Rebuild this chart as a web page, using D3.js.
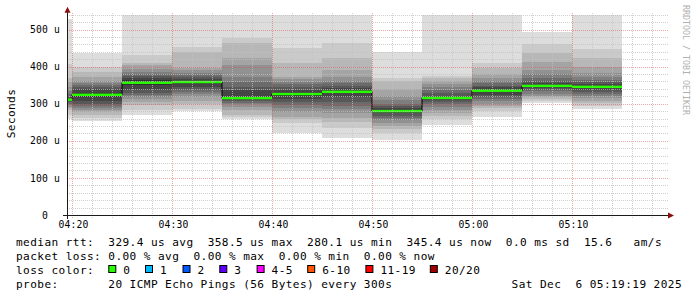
<!DOCTYPE html>
<html><head><meta charset="utf-8">
<script src="https://cdn.jsdelivr.net/npm/d3@7"></script>
<style>
html,body{margin:0;padding:0;background:#fff;}
svg{display:block;}
text{font-family:"DejaVu Sans Mono",monospace;white-space:pre;}
</style>
</head><body>
<svg id="c" width="697" height="297"></svg>
<script>
// ---- data ----
const times = ["04:20","04:25","04:30","04:35","04:40","04:45","04:50","04:55","05:00","05:05","05:10","05:15"]; // interval end times
const medians = [311, 324, 356.5, 358.5, 315, 326, 332, 280.1, 315.5, 335, 348, 345.4]; // us
// 20 sorted ping rtts (us) per interval
const pings = [
  [259,270,283,288,292,296,300,304,307,310,312,315,319,326,335,346,358,369,407,527],
  [254,262,270,277,283,288,293,298,306,318,330,340,346,350,355,361,372,385,400,437],
  [270,283,296,305,312,317,323,328,337,350,363,368,374,380,386,393,404,410,431,540],
  [280,285,298,308,317,325,332,338,345,357,360,366,372,378,383,390,396,440,452,540],
  [259,263,270,283,292,298,303,307,310,312,318,337,346,359,373,404,422,463,477,540],
  [222,247,258,265,278,288,297,305,314,322,330,338,346,352,359,366,373,409,449,540],
  [208,234,250,262,275,285,295,305,318,330,334,341,348,355,362,372,390,422,463,540],
  [202,222,232,240,248,255,262,268,274,279,281.2,288,294,300,310,322,340,361,368,440],
  [243,258,268,276,284,292,298,304,309,313,318,322,328,336,344,352,360,368,376,540],
  [265,280,288,294,300,306,312,318,324,331,339,344,349,355,362,370,380,395,410,540],
  [301,307,312,317,322,327,333,338,342,346,350,355,362,370,380,392,413,436,461,494],
  [286,295,301,308,315,320,326,332,337,342,348.8,352,358,364,372,384,400,422,447,540]
];
const yTicks = [0,100,200,300,400,500];
const xTickLabels = ["04:20","04:30","04:40","04:50","05:00","05:10"];
const rttStats = [329.4, 358.5, 280.1, 345.4];   // avg, max, min, now (us)
const rttStatNames = ["avg","max","min","now"];
const rttSd = 0.0;   // ms
const amPerS = 15.6;
const lossStats = [0.00, 0.00, 0.00, 0.00];      // avg, max, min, now (%)
const lossLabels = ["0","1","2","3","4-5","6-10","11-19","20/20"];
const lossColors = ["#26ff00","#00b8ff","#0059ff","#5e00ff","#ff00ff","#ff5500","#ff0000","#a10000"];
const probeText = "20 ICMP Echo Pings (56 Bytes) every 300s";
const dateText = "Sat Dec  6 05:19:19 2025";

// ---- layout ----
const svg = d3.select("#c");
const parse = d3.timeParse("%H:%M");
const x = d3.scaleTime().domain([parse("04:20"), parse("05:20")]).range([72, 672]);
const y = d3.scaleLinear().domain([0, 500]).range([215, 29.5]);
const X0 = 67, X1 = 669, Y0 = y(0), Y1 = y(545);

svg.append("rect").attr("width",697).attr("height",297).attr("fill","#fff");
svg.append("defs").append("clipPath").attr("id","plot")
  .append("rect").attr("x",X0).attr("y",Y1).attr("width",X1-X0).attr("height",Y0-Y1);

const plot = svg.append("g").attr("clip-path","url(#plot)");
const iv = times.map((t,i)=>{ const e = parse(t); return {s:d3.timeMinute.offset(e,-5), e, p:pings[i], m:medians[i]}; });

// smoke
for (let k=0;k<10;k++){
  const c = Math.floor(190/10*(10-(k+1)))+50;
  const col = d3.rgb(c,c,c).formatHex();
  plot.selectAll(null).data(iv).enter().append("rect")
    .attr("x",d=>x(d.s)).attr("width",d=>x(d.e)-x(d.s))
    .attr("y",d=>y(d.p[19-k])).attr("height",d=>y(d.p[k])-y(d.p[19-k]))
    .attr("fill",col).attr("shape-rendering","crispEdges");
}

// grid
const grid = svg.append("g");
const minorCol = "rgba(192,192,192,0.75)", majorCol = "rgba(222,79,79,0.5)";
const hMinor = d3.range(20, 541, 20).filter(v=>v%100!==0);
const hMajor = d3.range(100, 541, 100);
grid.selectAll(null).data(hMinor).enter().append("line")
  .attr("x1",X0).attr("x2",X1).attr("y1",d=>Math.round(y(d))+0.5).attr("y2",d=>Math.round(y(d))+0.5)
  .attr("stroke",minorCol).attr("stroke-dasharray","1,1");
grid.selectAll(null).data(hMajor).enter().append("line")
  .attr("x1",X0).attr("x2",X1).attr("y1",d=>Math.round(y(d))+0.5).attr("y2",d=>Math.round(y(d))+0.5)
  .attr("stroke",majorCol).attr("stroke-dasharray","1,1");
const vAll = x.ticks(d3.timeMinute.every(2)).filter(t=>x(t)<=X1);
const vMinor = vAll.filter(t=>t.getMinutes()%10!==0);
const vMajor = vAll.filter(t=>t.getMinutes()%10===0);
grid.selectAll(null).data(vMinor).enter().append("line")
  .attr("x1",d=>Math.round(x(d))+0.5).attr("x2",d=>Math.round(x(d))+0.5).attr("y1",Y0+3).attr("y2",Y1)
  .attr("stroke",minorCol).attr("stroke-dasharray","1,1");
grid.selectAll(null).data(vMajor).enter().append("line")
  .attr("x1",d=>Math.round(x(d))+0.5).attr("x2",d=>Math.round(x(d))+0.5).attr("y1",Y0+3).attr("y2",Y1)
  .attr("stroke",majorCol).attr("stroke-dasharray","1,1");

// median: black step line + loss-coloured band
const line = d3.line().curve(d3.curveStepAfter).x(d=>x(d[0])).y(d=>y(d[1]));
const pts = iv.map(d=>[d.s,d.m]); pts.push([iv[iv.length-1].e, iv[iv.length-1].m]);
plot.append("path").attr("d",line(pts)).attr("fill","none").attr("stroke","#000").attr("stroke-width",1);
plot.selectAll(null).data(iv).enter().append("rect")
  .attr("x",d=>x(d.s)).attr("width",d=>x(d.e)-x(d.s))
  .attr("y",d=>y(d.m)-1.2).attr("height",2.4).attr("fill",lossColors[0]);

// axes lines + arrows
svg.append("line").attr("x1",X0-4).attr("x2",X1+3).attr("y1",Y0+0.5).attr("y2",Y0+0.5).attr("stroke","#1a1a1a");
svg.append("line").attr("x1",X0+0.5).attr("x2",X0+0.5).attr("y1",Y0+4).attr("y2",Y1-3).attr("stroke","#1a1a1a");
svg.append("path").attr("d",`M${X1-1},${Y0-2.5}L${X1+5},${Y0+0.5}L${X1-1},${Y0+3.5}Z`).attr("fill","#8a1010");
svg.append("path").attr("d",`M${X0-2.5},${Y1+0}L${X0+0.5},${Y1-6}L${X0+3.5},${Y1+0}Z`).attr("fill","#8a1010");

// tick labels
const yAx = svg.append("g").attr("transform",`translate(${X0},0)`)
  .call(d3.axisLeft(y).tickValues(yTicks).tickFormat(d=>d===0?"0  ":d+" u").tickSize(0).tickPadding(7));
yAx.select(".domain").remove();
yAx.selectAll("text").attr("font-family","DejaVu Sans Mono").attr("font-size","9.72px").attr("letter-spacing","0.15px").attr("fill","#000");
const xAx = svg.append("g").attr("transform",`translate(0,${Y0})`)
  .call(d3.axisBottom(x).tickValues(xTickLabels.map(parse)).tickFormat(d3.timeFormat("%H:%M")).tickSize(0).tickPadding(6.5));
xAx.select(".domain").remove();
xAx.selectAll("text").attr("font-family","DejaVu Sans Mono").attr("font-size","9.72px").attr("letter-spacing","0.15px").attr("fill","#000").attr("dx","1");

// y title
svg.append("text").attr("transform","translate(15,113.5) rotate(-90)").attr("text-anchor","middle")
  .attr("font-size","11.1px").attr("letter-spacing","0.4px").text("Seconds");
// watermark
svg.append("text").attr("transform","translate(683,5) rotate(90)").attr("font-size","8.3px")
  .attr("fill","#b0b0b0").text("RRDTOOL / TOBI OETIKER");

// legend
const lg = svg.append("g").attr("font-size","11.1px").attr("letter-spacing","0.42px").attr("fill","#000");
const f1 = d3.format(".1f"), f2 = d3.format(".2f");
const l1 = "median rtt:  " + rttStats.map((v,i)=>f1(v)+" us "+rttStatNames[i]).join("  ") + "  " + f1(rttSd) + " ms sd  " + f1(amPerS) + "   am/s";
const l2 = "packet loss: " + lossStats.map((v,i)=>f2(v)+" % "+rttStatNames[i]).join("  ");
lg.append("text").attr("x",16).attr("y",245.5).text(l1);
lg.append("text").attr("x",16).attr("y",259.5).text(l2);
lg.append("text").attr("x",16).attr("y",273.5).text("loss color:");
const boxX = [108.3,145,182.5,219.3,256.6,307.2,365.4,429.8];
lossLabels.forEach((l,i)=>{
  lg.append("rect").attr("x",boxX[i]+0.5).attr("y",265.5).attr("width",7).attr("height",7)
    .attr("fill",lossColors[i]).attr("stroke","#000").attr("stroke-width",1);
  lg.append("text").attr("x",boxX[i]+15).attr("y",273.5).text(l);
});
lg.append("text").attr("x",16).attr("y",287.5).text("probe:       " + probeText);
lg.append("text").attr("x",682).attr("y",287.5).attr("text-anchor","end").text(dateText);
</script>
</body></html>
